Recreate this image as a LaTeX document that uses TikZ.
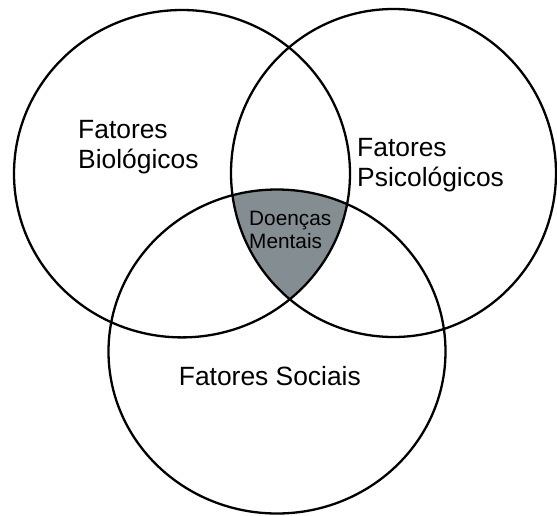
\documentclass[tikz,border=0pt]{standalone}
\usepackage{fontspec}
\setmainfont{Liberation Sans}
\definecolor{core}{RGB}{132,142,146}
\begin{document}
\begin{tikzpicture}[x=1pt,y=-1pt,
  ring/.style={draw=black, line width=2.3pt},
  biglbl/.style={font=\fontsize{26.4}{30}\selectfont, anchor=base west, inner sep=0pt},
  smalllbl/.style={font=\fontsize{20.8}{24}\selectfont, anchor=base west, inner sep=0pt}]
\useasboundingbox (0,0) rectangle (557,515);
% shaded triple intersection
\begin{scope}
  \clip (182,173.7) ellipse [x radius=168, y radius=163.7];
  \clip (393.5,173) ellipse [x radius=162.5, y radius=164];
  \fill[core] (277,351.5) ellipse [x radius=168.5, y radius=162];
\end{scope}
% circles
\draw[ring] (182,173.7) ellipse [x radius=168, y radius=163.7];
\draw[ring] (393.5,173) ellipse [x radius=162.5, y radius=164];
\draw[ring] (277,351.5) ellipse [x radius=168.5, y radius=162];
% labels
\node[biglbl] (bio1) at (78,138) {Fatores};
\node[biglbl] (bio2) at (78,168) {Biológicos};
\node[biglbl] (psi1) at (357,156) {Fatores};
\node[biglbl] (psi2) at (357,186) {Psicológicos};
\node[smalllbl] (dm1) at (249,225) {Doenças};
\node[smalllbl] (dm2) at (249,248) {Mentais};
\node[biglbl] (soc) at (178.7,385) {Fatores Sociais};
\end{tikzpicture}
\end{document}
